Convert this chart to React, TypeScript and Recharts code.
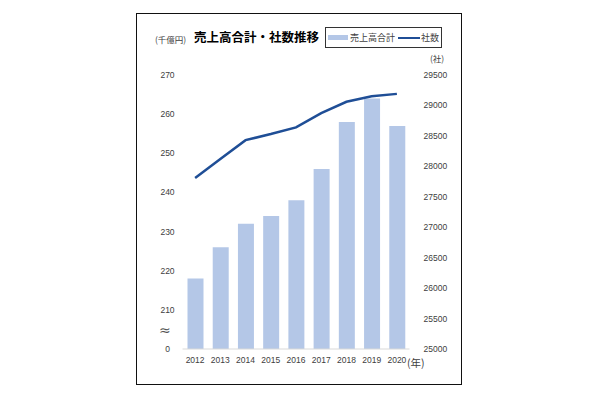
import React from "react";
import {
  ComposedChart,
  Bar,
  Line,
  XAxis,
  YAxis,
} from "recharts";

// 年ごとのデータ
const years = ["2012", "2013", "2014", "2015", "2016", "2017", "2018", "2019", "2020"];
const sales = [218, 226, 232, 234, 238, 246, 258, 264, 257]; // 売上高合計（千億円）
const companies = [27810, 28120, 28430, 28530, 28640, 28875, 29060, 29150, 29190]; // 社数

const leftTicks = [200, 210, 220, 230, 240, 250, 260, 270];
const rightTicks = [25000, 25500, 26000, 26500, 27000, 27500, 28000, 28500, 29000, 29500];

const BAR_COLOR = "#b4c7e7";
const LINE_COLOR = "#1f4e96";
const TEXT_COLOR = "#404040";
const NUM_FONT = "'Liberation Sans', Arial, sans-serif";
const JP_FONT = "'Noto Sans CJK JP', sans-serif";

const chartData = years.map((y, i) => ({
  year: y,
  sales: sales[i],
  companies: companies[i],
}));

// 左軸は中央揃え、最下段は「0」（省略記号つき）
const LeftTick = (props: any) => {
  const { x, y, payload } = props;
  return (
    <text
      x={x - 7}
      y={y}
      dy={3}
      textAnchor="middle"
      fontSize={8.5}
      fontFamily={NUM_FONT}
      fill={TEXT_COLOR}
    >
      {payload.value === 200 ? "0" : payload.value}
    </text>
  );
};

const LegendBox = () => (
  <div
    style={{
      position: "absolute",
      left: 325,
      top: 27,
      display: "flex",
      alignItems: "center",
      border: "1.5px solid #333",
      background: "#fff",
      padding: "0 2px",
      height: 21,
      boxSizing: "border-box",
      fontFamily: JP_FONT,
      fontSize: 9,
      color: TEXT_COLOR,
      whiteSpace: "nowrap",
    }}
  >
    <span style={{ display: "inline-block", width: 20, height: 5, background: BAR_COLOR, marginRight: 2 }} />
    <span>売上高合計</span>
    <span style={{ display: "inline-block", width: 22, height: 2, background: LINE_COLOR, margin: "0 1px 0 3px" }} />
    <span>社数</span>
  </div>
);

export default function App() {
  return (
    <div style={{ position: "absolute", left: 0, top: 0, width: 600, height: 399, background: "#fff" }}>
      <div
        style={{
          position: "absolute",
          left: 136,
          top: 13,
          width: 326,
          height: 372,
          border: "1.5px solid #111",
          boxSizing: "border-box",
        }}
      />
      <div style={{ position: "absolute", left: 0, top: 0 }}>
        <ComposedChart
          width={600}
          height={399}
          data={chartData}
          margin={{ top: 75, right: 150.5, bottom: 20, left: 152.5 }}
        >
          <XAxis
            dataKey="year"
            tickLine={false}
            axisLine={{ stroke: "#d9d9d9" }}
            tick={{ fontSize: 8.5, fontFamily: NUM_FONT, fill: TEXT_COLOR }}
            height={30}
            interval={0}
          />
          <YAxis
            yAxisId="left"
            domain={[200, 270]}
            ticks={leftTicks}
            axisLine={false}
            tickLine={false}
            width={30}
            tick={<LeftTick />}
          />
          <YAxis
            yAxisId="right"
            orientation="right"
            domain={[25000, 29500]}
            ticks={rightTicks}
            axisLine={false}
            tickLine={false}
            width={40}
            tickMargin={8}
            tick={{ fontSize: 8.5, fontFamily: NUM_FONT, fill: TEXT_COLOR, textAnchor: "start" }}
          />
          <Bar
            yAxisId="left"
            dataKey="sales"
            name="売上高合計"
            fill={BAR_COLOR}
            barSize={16}
            isAnimationActive={false}
          />
          <Line
            yAxisId="right"
            dataKey="companies"
            name="社数"
            stroke={LINE_COLOR}
            strokeWidth={2.5}
            dot={false}
            isAnimationActive={false}
          />
        </ComposedChart>
      </div>
      <LegendBox />
      {/* タイトル・単位 */}
      <div
        style={{
          position: "absolute",
          left: 194,
          top: 27,
          fontFamily: JP_FONT,
          fontWeight: 700,
          fontSize: 12.5,
          color: "#000",
          whiteSpace: "nowrap",
        }}
      >
        売上高合計・社数推移
      </div>
      <div style={{ position: "absolute", left: 155, top: 33, fontFamily: JP_FONT, fontSize: 8.5, color: TEXT_COLOR, whiteSpace: "nowrap" }}>
        (千億円)
      </div>
      <div style={{ position: "absolute", left: 430, top: 52, fontFamily: JP_FONT, fontSize: 8.5, color: TEXT_COLOR, whiteSpace: "nowrap" }}>
        (社)
      </div>
      <div style={{ position: "absolute", left: 407, top: 355, fontFamily: JP_FONT, fontSize: 10.5, color: TEXT_COLOR, whiteSpace: "nowrap" }}>
        (年)
      </div>
      <div style={{ position: "absolute", left: 159, top: 322, fontFamily: "'DejaVu Sans', sans-serif", fontSize: 14, color: "#555", whiteSpace: "nowrap" }}>
        ≈
      </div>
    </div>
  );
}
